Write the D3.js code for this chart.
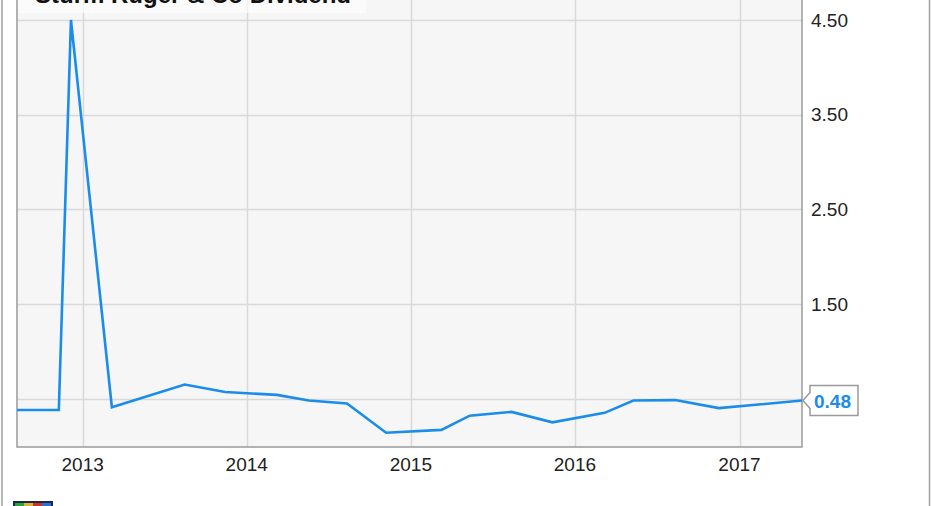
<!DOCTYPE html>
<html>
<head>
<meta charset="utf-8">
<script src="https://cdn.jsdelivr.net/npm/d3@7"></script>
<style>
  html, body { margin: 0; padding: 0; background: #fff; }
  svg { display: block; font-family: "Liberation Sans", Arial, sans-serif; }
</style>
</head>
<body>
<svg id="chart" width="931" height="506"></svg>
<script>
// ---- data ----
const title = "Sturm Ruger & Co Dividend";
const dates = ["2012-08-08","2012-11-09","2012-12-06","2013-03-07","2013-08-16","2013-11-14",
  "2014-03-09","2014-05-19","2014-08-12","2014-11-07","2015-03-10","2015-05-12","2015-08-13",
  "2015-11-12","2016-03-07","2016-05-10","2016-08-11","2016-11-16","2017-05-20"];
const dividends = [0.38,0.38,4.50,0.41,0.65,0.57,0.54,0.48,0.45,0.14,0.17,0.32,0.36,0.25,0.35,0.48,0.485,0.40,0.48];
const yTicks = [0.5, 1.5, 2.5, 3.5, 4.5];
const xTickYears = [2013, 2014, 2015, 2016, 2017];
const lastLabel = "0.48";

// ---- layout ----
const svg = d3.select("#chart");
const parse = d3.utcParse("%Y-%m-%d");
const data = dates.map((d, i) => ({ date: parse(d), value: dividends[i] }));

const plot = { left: 17, right: 802, top: -10, bottom: 447 };
const x = d3.scaleUtc()
  .domain([data[0].date, data[data.length - 1].date])
  .range([plot.left, plot.right]);
const y = d3.scaleLinear().domain([0, 4.5]).range([446, 20]);

// outer frame lines
svg.append("line").attr("x1", 2).attr("x2", 2).attr("y1", 0).attr("y2", 506)
  .attr("stroke", "#a0a0a0").attr("stroke-width", 1.5);
svg.append("line").attr("x1", 929.5).attr("x2", 929.5).attr("y1", 0).attr("y2", 506)
  .attr("stroke", "#a0a0a0").attr("stroke-width", 1.5);

// plot background
svg.append("rect").attr("x", plot.left).attr("y", plot.top)
  .attr("width", plot.right - plot.left).attr("height", plot.bottom - plot.top)
  .attr("fill", "#f6f6f6");

// gridlines
svg.append("g").selectAll("line").data(yTicks).join("line")
  .attr("x1", plot.left).attr("x2", plot.right)
  .attr("y1", d => Math.round(y(d)) + 0.5).attr("y2", d => Math.round(y(d)) + 0.5)
  .attr("stroke", "#d9d9d9").attr("stroke-width", 1.5);
const xTickDates = xTickYears.map(yr => new Date(Date.UTC(yr, 0, 1)));
svg.append("g").selectAll("line").data(xTickDates).join("line")
  .attr("x1", d => Math.round(x(d)) + 0.5).attr("x2", d => Math.round(x(d)) + 0.5)
  .attr("y1", plot.top).attr("y2", plot.bottom)
  .attr("stroke", "#d9d9d9").attr("stroke-width", 1.5);

// plot border (left, bottom, right)
svg.append("path")
  .attr("d", `M${plot.left},${plot.top}V${plot.bottom}H${plot.right}V${plot.top}`)
  .attr("fill", "none").attr("stroke", "#9a9a9a").attr("stroke-width", 1.5);

// title box (semi-transparent) and title
svg.append("rect").attr("x", plot.left + 1).attr("y", -20).attr("width", 348).attr("height", 33)
  .attr("fill", "#fff").attr("fill-opacity", 0.6);
svg.append("text").attr("x", 35).attr("y", 3)
  .attr("font-size", 24).attr("font-weight", "bold").attr("fill", "#111")
  .text(title);

// line
const line = d3.line().x(d => x(d.date)).y(d => y(d.value));
svg.append("path").datum(data)
  .attr("d", line).attr("fill", "none")
  .attr("stroke", "#1a8cec").attr("stroke-width", 2.6).attr("stroke-linejoin", "miter");

// y-axis labels (right)
const lastVal = data[data.length - 1].value;
svg.append("g").selectAll("text")
  .data(yTicks.filter(t => Math.abs(y(t) - y(lastVal)) > 16)).join("text")
  .attr("x", 811).attr("y", d => y(d)).attr("dy", "0.35em")
  .attr("font-size", 19).attr("fill", "#222")
  .text(d => d3.format(".2f")(d));

// x-axis labels
svg.append("g").selectAll("text").data(xTickDates).join("text")
  .attr("x", d => x(d)).attr("y", 464).attr("dy", "0.35em")
  .attr("text-anchor", "middle").attr("font-size", 19).attr("fill", "#222")
  .text(d => d3.utcFormat("%Y")(d));

// last value label with pointer
const ly = y(lastVal);
const bx = 810, bw = 48, bh = 30;
svg.append("path")
  .attr("d", `M${plot.right + 1},${ly} L${bx},${ly - 8} V${ly - bh / 2} H${bx + bw} V${ly + bh / 2} H${bx} V${ly + 8} Z`)
  .attr("fill", "#fff").attr("stroke", "#9a9a9a").attr("stroke-width", 1.5);
svg.append("text").attr("x", bx + 4).attr("y", ly + 1).attr("dy", "0.35em")
  .attr("font-size", 19).attr("font-weight", "bold").attr("fill", "#1a8cec")
  .text(lastLabel);

// small logo at bottom-left (partially visible)
const logo = svg.append("g").attr("transform", "translate(13,501)");
logo.append("rect").attr("width", 40).attr("height", 10).attr("fill", "#1c2a4a");
[["#2e9e3e", 2], ["#d8b23a", 11], ["#d0302a", 20], ["#2f6fd0", 29]].forEach(([c, dx]) =>
  logo.append("rect").attr("x", dx).attr("y", 2).attr("width", 9).attr("height", 8).attr("fill", c));
</script>
</body>
</html>
